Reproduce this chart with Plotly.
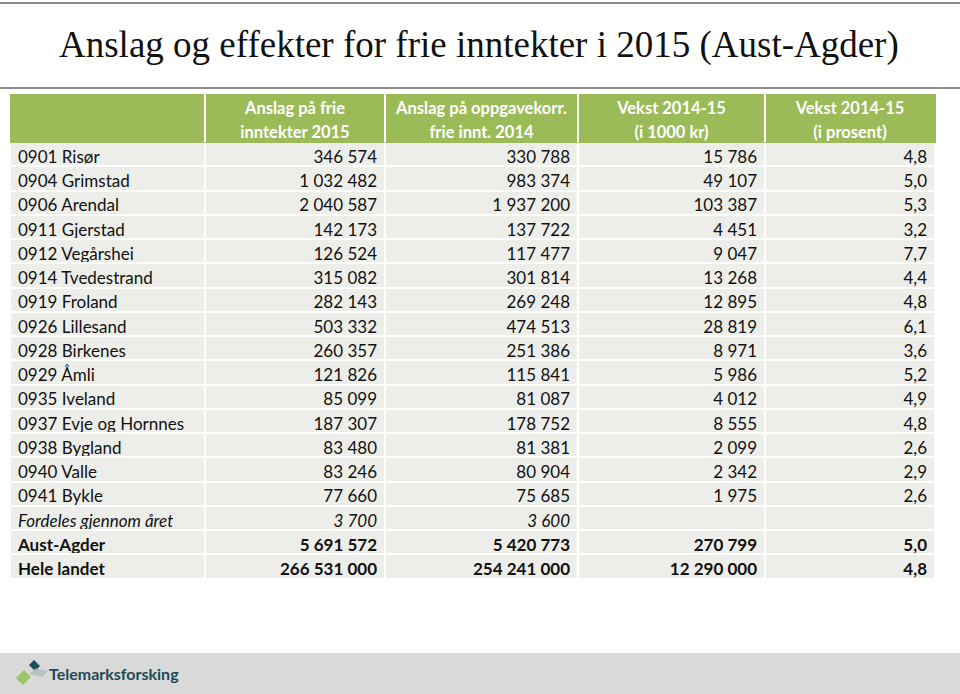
import plotly.graph_objects as go

W, H = 960, 694

# table data
kommuner = ["0901 Risør", "0904 Grimstad", "0906 Arendal", "0911 Gjerstad",
            "0912 Vegårshei", "0914 Tvedestrand", "0919 Froland",
            "0926 Lillesand", "0928 Birkenes", "0929 Åmli", "0935 Iveland",
            "0937 Evje og Hornnes", "0938 Bygland", "0940 Valle",
            "0941 Bykle", "Fordeles gjennom året", "Aust-Agder", "Hele landet"]
anslag_2015 = [346574, 1032482, 2040587, 142173, 126524, 315082, 282143,
               503332, 260357, 121826, 85099, 187307, 83480, 83246, 77660,
               3700, 5691572, 266531000]
anslag_2014 = [330788, 983374, 1937200, 137722, 117477, 301814, 269248,
               474513, 251386, 115841, 81087, 178752, 81381, 80904, 75685,
               3600, 5420773, 254241000]
vekst_kr = [15786, 49107, 103387, 4451, 9047, 13268, 12895, 28819, 8971,
            5986, 4012, 8555, 2099, 2342, 1975, None, 270799, 12290000]
vekst_pst = [4.8, 5.0, 5.3, 3.2, 7.7, 4.4, 4.8, 6.1, 3.6, 5.2, 4.9, 4.8,
             2.6, 2.9, 2.6, None, 5.0, 4.8]
header_line1 = ["", "Anslag på frie", "Anslag på oppgavekorr.",
                "Vekst 2014-15", "Vekst 2014-15"]
header_line2 = ["", "inntekter 2015", "frie innt. 2014",
                "(i 1000 kr)", "(i prosent)"]


def fmt_int(v):
    if v is None:
        return ""
    return f"{v:,}".replace(",", " ")


def fmt_pct(v):
    if v is None:
        return ""
    return f"{v:.1f}".replace(".", ",")


columns = [
    kommuner,
    [fmt_int(v) for v in anslag_2015],
    [fmt_int(v) for v in anslag_2014],
    [fmt_int(v) for v in vekst_kr],
    [fmt_pct(v) for v in vekst_pst],
]

col_w = [195, 180, 193, 187, 170]
x_left, y_top = 10, 94
head_h, row_h = 48, 24.25
n_plain = kommuner.index("Fordeles gjennom året")
FONT = "Lato"
SUB_OFFSET = 16  # empty band plotly keeps above header-less tables


def py(y):
    return 1 - y / H


def px(x):
    return x / W


fig = go.Figure()

cell_common = dict(fill_color="#EDEEE9", line=dict(color="white", width=2),
                   align=["left", "right", "right", "right", "right"],
                   height=row_h)
x_dom = [px(x_left), px(x_left + sum(col_w))]

# municipalities
fig.add_trace(go.Table(
    domain=dict(x=x_dom, y=[0, py(y_top)]),
    columnwidth=col_w,
    header=dict(values=[[a, b] for a, b in zip(header_line1, header_line2)],
                fill_color="#9BBB59", line=dict(color="#9BBB59", width=1),
                align="center", height=head_h / 2,
                font=dict(family=FONT, size=16.5, color="white",
                          weight="bold")),
    cells=dict(values=[c[:n_plain] for c in columns],
               font=dict(family=FONT, size=17, color="#111111"),
               **cell_common),
))

# italic row and bold total rows
y_sub = y_top + head_h + n_plain * row_h
for rows, fnt in [(slice(n_plain, n_plain + 1), dict(style="italic")),
                  (slice(n_plain + 1, None), dict(weight="bold"))]:
    n = len(kommuner[rows])
    fig.add_trace(go.Table(
        domain=dict(x=x_dom, y=[0, py(y_sub - SUB_OFFSET)]),
        columnwidth=col_w,
        header=dict(values=[], height=0, line=dict(width=0),
                    fill_color="rgba(0,0,0,0)"),
        cells=dict(values=[c[rows] for c in columns],
                   font=dict(family=FONT, size=17, color="#111111", **fnt),
                   **cell_common),
    ))
    y_sub += n * row_h

shapes = [
    dict(type="line", xref="paper", yref="paper", x0=0, x1=1,
         y0=py(3), y1=py(3), line=dict(color="#8C8C8C", width=2)),
    dict(type="line", xref="paper", yref="paper", x0=0, x1=1,
         y0=py(88), y1=py(88), line=dict(color="#8C8C8C", width=2)),
    dict(type="rect", xref="paper", yref="paper", x0=0, x1=1,
         y0=py(694), y1=py(653), fillcolor="#D9D9D9", line_width=0),
]
# white separators between header columns
xb = x_left
for w in col_w[:-1]:
    xb += w
    shapes.append(dict(type="line", xref="paper", yref="paper", layer="above",
                       x0=px(xb), x1=px(xb), y0=py(y_top),
                       y1=py(y_top + head_h),
                       line=dict(color="white", width=2)))


def poly(pts, color):
    path = "M " + " L ".join(f"{px(x)},{py(y)}" for x, y in pts) + " Z"
    return dict(type="path", xref="paper", yref="paper", path=path,
                fillcolor=color, line_width=0)


# logo icon
shapes.append(poly([(29, 665), (34, 660), (40, 666), (35, 671)], "#1E4D5C"))
shapes.append(poly([(16, 678), (24, 670), (31, 677), (23, 685)], "#9BC46B"))
for i in range(5):
    d = i * 2.6
    shapes.append(poly([(30 + d, 674 + d * 0.2), (36 + d, 668 + d * 0.2),
                        (37 + d, 669 + d * 0.2), (31 + d, 675 + d * 0.2)],
                       "#A9B3B5"))

fig.update_layout(
    width=W, height=H, margin=dict(l=0, r=0, t=0, b=0),
    paper_bgcolor="white", plot_bgcolor="white",
    shapes=shapes,
    annotations=[
        dict(text="Anslag og effekter for frie inntekter i 2015 (Aust-Agder)",
             xref="paper", yref="paper", x=px(479), y=py(45),
             xanchor="center", yanchor="middle", showarrow=False,
             font=dict(family="Liberation Serif", size=37, color="#111111")),
        dict(text="Telemarksforsking", xref="paper", yref="paper",
             x=px(47), y=py(673), xanchor="left", yanchor="middle",
             showarrow=False,
             font=dict(family=FONT, size=16, color="#1E4A57",
                       weight="bold")),
    ],
)

fig.write_html("out.html", config={"displayModeBar": False},
               post_script="document.body.style.margin='0';")
